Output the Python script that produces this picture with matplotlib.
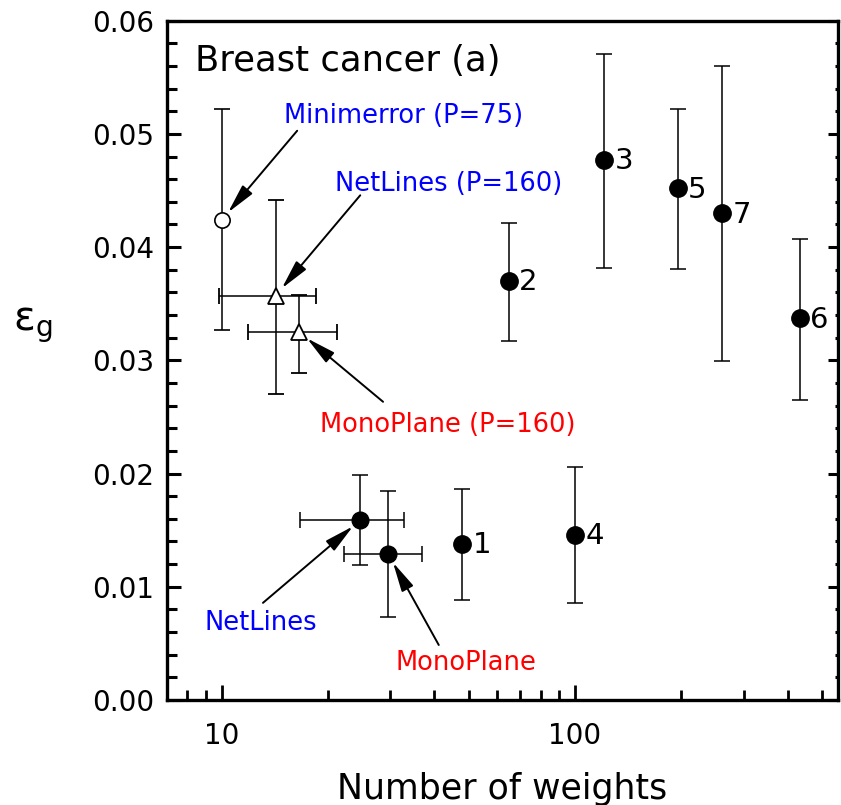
import matplotlib.pyplot as plt
import numpy as np
from matplotlib.ticker import FixedLocator, LogLocator, MultipleLocator, NullFormatter

# numbered networks 1..7
nums = [1, 2, 3, 4, 5, 6, 7]
num_x = [48, 65, 121, 100, 195, 432, 261]
num_y = [0.0138, 0.0370, 0.0477, 0.0146, 0.0452, 0.0337, 0.0430]
num_lo = [0.0088, 0.0317, 0.0382, 0.0086, 0.0381, 0.0265, 0.0299]
num_hi = [0.0186, 0.0421, 0.0571, 0.0206, 0.0522, 0.0407, 0.0560]

# Minimerror (P=75), open circle
mm_x, mm_y, mm_lo, mm_hi = 10, 0.0424, 0.0327, 0.0522

# P=160 results (open triangles): NetLines, MonoPlane
tri_x = [14.2, 16.6]
tri_xlo = [9.8, 11.9]
tri_xhi = [18.5, 21.2]
tri_y = [0.0357, 0.0325]
tri_lo = [0.0270, 0.0289]
tri_hi = [0.0442, 0.0358]

# NetLines / MonoPlane (filled circles with x spread)
nm_x = [24.7, 29.6]
nm_xlo = [16.7, 22.2]
nm_xhi = [32.8, 36.8]
nm_y = [0.0159, 0.0129]
nm_lo = [0.0119, 0.0073]
nm_hi = [0.0199, 0.0185]

W, H = 841, 805
fig = plt.figure(figsize=(W / 100, H / 100), dpi=100)
ax = fig.add_axes([167 / W, 1 - 700 / H, 671 / W, 679.3 / H])

ebkw = dict(color="black", elinewidth=1.1, capsize=6, capthick=1.1, ls="none")


def yerr(y, lo, hi):
    y, lo, hi = map(np.asarray, (y, lo, hi))
    return [y - lo, hi - y]


ax.errorbar(num_x, num_y, yerr=yerr(num_y, num_lo, num_hi), fmt="o", ms=12.5,
            mfc="black", mec="black", **ebkw)
for n, x, y in zip(nums, num_x, num_y):
    ax.annotate(str(n), (x, y), xytext=(7.5, -1), textcoords="offset points",
                ha="left", va="center", fontsize=21)

ax.errorbar([mm_x], [mm_y], yerr=yerr([mm_y], [mm_lo], [mm_hi]), fmt="o", ms=11,
            mfc="white", mec="black", mew=1.2, zorder=3, **ebkw)
ax.errorbar(tri_x, tri_y, yerr=yerr(tri_y, tri_lo, tri_hi),
            xerr=yerr(tri_x, tri_xlo, tri_xhi), fmt="^", ms=11,
            mfc="white", mec="black", mew=1.3, zorder=3, **ebkw)
ax.errorbar(nm_x, nm_y, yerr=yerr(nm_y, nm_lo, nm_hi),
            xerr=yerr(nm_x, nm_xlo, nm_xhi), fmt="o", ms=12,
            mfc="black", mec="black", zorder=3, **ebkw)

# annotations: (text, colour, text pos, arrow tail, target point)
notes = [
    ("Minimerror (P=75)", "blue", (0.352, 0.860), (0.194, 0.838), (mm_x, mm_y)),
    ("NetLines (P=160)", "blue", (0.419, 0.760), (0.288, 0.743), (tri_x[0], tri_y[0])),
    ("MonoPlane (P=160)", "red", (0.418, 0.405), (0.322, 0.439), (tri_x[1], tri_y[1])),
    ("NetLines", "blue", (0.140, 0.113), (0.143, 0.143), (nm_x[0], nm_y[0])),
    ("MonoPlane", "red", (0.446, 0.055), (0.405, 0.081), (nm_x[1], nm_y[1])),
]
for txt, col, tpos, tail, pt in notes:
    ax.text(*tpos, txt, color=col, fontsize=18.5, ha="center", va="center",
            transform=ax.transAxes)
    ax.annotate("", xy=pt, xycoords="data", xytext=tail, textcoords="axes fraction",
                arrowprops=dict(arrowstyle="-|>,head_length=1.0,head_width=0.22",
                                color="black", lw=1.4, shrinkA=0, shrinkB=7,
                                mutation_scale=18))

ax.text(0.042, 0.941, "Breast cancer (a)", fontsize=25.5, ha="left", va="center",
        transform=ax.transAxes)

ax.set_xscale("log")
ax.set_xlim(7, 555)
ax.set_ylim(0, 0.06)
ax.xaxis.set_major_locator(FixedLocator([10, 100]))
ax.set_xticklabels(["10", "100"])
ax.xaxis.set_minor_locator(LogLocator(base=10, subs=np.arange(2, 10)))
ax.xaxis.set_minor_formatter(NullFormatter())
ax.yaxis.set_major_locator(MultipleLocator(0.01))
ax.yaxis.set_minor_locator(MultipleLocator(0.002))
ax.yaxis.set_major_formatter(plt.FuncFormatter(lambda v, p: f"{v:.2f}"))

for s in ax.spines.values():
    s.set_linewidth(2.4)
ax.tick_params(axis="both", which="both", direction="in", top=False, right=False,
               labelsize=20)
ax.tick_params(axis="y", which="major", length=10, width=2.2, pad=9)
ax.tick_params(axis="y", which="minor", length=7, width=2.2)
ax.tick_params(axis="x", which="major", length=11, width=2.0, pad=16)
ax.tick_params(axis="x", which="minor", length=7, width=2.0)

ax2 = ax.twinx()
ax2.set_ylim(ax.get_ylim())
ax2.yaxis.set_major_locator(MultipleLocator(0.01))
ax2.yaxis.set_minor_locator(MultipleLocator(0.002))
ax2.tick_params(axis="y", which="major", direction="in", length=7, width=2.2,
                labelright=False)
ax2.tick_params(axis="y", which="minor", direction="in", length=2, width=2.2)
for s in ax2.spines.values():
    s.set_visible(False)

ax.set_xlabel("Number of weights", fontsize=25, labelpad=16)
ax.set_ylabel("ε$_\\mathregular{g}$", fontsize=29, rotation=0, va="center")
ax.yaxis.set_label_coords(-0.2, 0.552)

fig.savefig("out.png", dpi=100)
